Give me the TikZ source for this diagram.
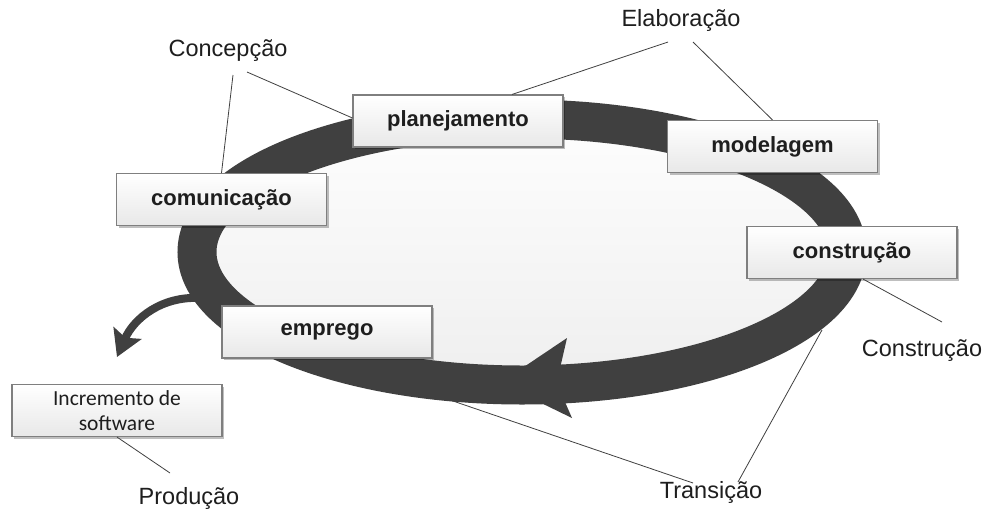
\documentclass[tikz,border=0pt]{standalone}
\usepackage{fontspec}
\setmainfont{Liberation Sans}
\newfontfamily\incrfont{Carlito}
\usetikzlibrary{arrows.meta,shadows,calc}
\definecolor{ringgray}{HTML}{404040}
\definecolor{boxline}{HTML}{7F7F7F}
\definecolor{txt}{HTML}{1E1E1E}
\tikzset{
  phase/.style={draw=boxline, line width=1.1pt, top color=white, bottom color=black!9,
    minimum width=210pt, minimum height=52pt, inner sep=0pt, text=txt,
    font=\bfseries\fontsize{22}{26}\selectfont,
    drop shadow={shadow xshift=2pt, shadow yshift=-2pt, opacity=0.25, fill=black}},
  lbl/.style={text=txt, inner sep=1pt, font=\fontsize{23.5}{27}\selectfont},
  leader/.style={draw=black!75, line width=0.8pt},
  ringline/.style={draw=ringgray, line width=39pt}
}
\begin{document}
\begin{tikzpicture}[x=1pt,y=-1pt]
\useasboundingbox (0,0) rectangle (986,512);
\fill[white] (0,0) rectangle (986,512);

% cycle interior and ring
\shade[top color=black!1, bottom color=black!6] (522,252) ellipse [x radius=307, y radius=115];
\draw[ringline] (522,252) ellipse [x radius=325, y radius=133];
% arrowhead on the ring, pointing left
\fill[ringgray] (500,383) -- (567,338) -- (561,364) -- (565,402) -- (572,418) -- cycle;
% branch towards the software increment
\draw[ringgray, line width=8pt, -{Stealth[length=26pt, width=30pt, inset=5pt]}]
  (200,298) .. controls (162,296) and (134,318) .. (117,357);

% phase boxes
\node[phase] (plan)  at (458,121)   {planejamento};
\node[phase] (model) at (772.5,146.5) {modelagem};
\node[phase] (cons)  at (852,252.5) {constru\c{c}\~ao};
\node[phase] (comm)  at (221.5,199.5) {comunica\c{c}\~ao};
\node[phase] (empr)  at (327,332)   {emprego};
\node[phase, font=\incrfont\fontsize{21.5}{25}\selectfont, align=center] (incr) at (117,410.5)
  {Incremento de\\software};

% phase labels
\node[lbl] (conc) at (228,51) {Concep\c{c}\~ao};
\node[lbl] (elab) at (681,20) {Elabora\c{c}\~ao};
\node[lbl] (cnst) at (922,351) {Constru\c{c}\~ao};
\node[lbl] (tran) at (711,492) {Transi\c{c}\~ao};
\node[lbl] (prod) at (189,498) {Produ\c{c}\~ao};

% leader lines
\coordinate (concA) at (233,75);
\coordinate (concB) at (247,72);
\coordinate (elabA) at (668,42);
\coordinate (elabB) at (693,42);
\coordinate (cnstA) at (942,322);
\coordinate (tranA) at (693,483);
\coordinate (tranB) at (738,482);
\coordinate (ringS) at (450,400);
\coordinate (ringE) at (822,330);
\coordinate (prodA) at (170,473);
\draw[leader] (concA) -- (comm.north);
\draw[leader] (concB) -- ([yshift=3pt]plan.west);
\draw[leader] (elabA) -- ([xshift=54pt]plan.north);
\draw[leader] (elabB) -- (model.north);
\draw[leader] (cnstA) -- ([xshift=11pt]cons.south);
\draw[leader] (tranA) -- (ringS);
\draw[leader] (tranB) -- (ringE);
\draw[leader] (prodA) -- (incr.south);
\end{tikzpicture}
\end{document}
